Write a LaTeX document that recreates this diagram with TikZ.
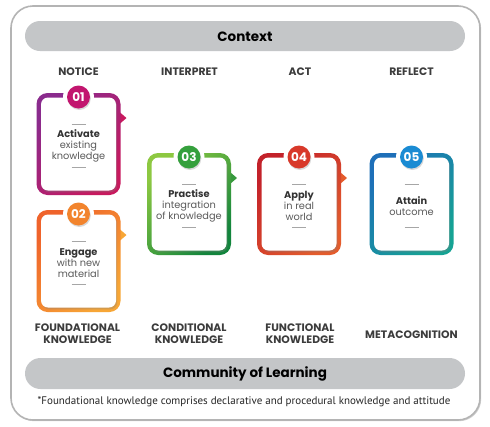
\documentclass[tikz,border=0pt]{standalone}
\usepackage{fontspec}
\setmainfont{Poppins}
\newfontfamily\notefont{PT Sans}
\usetikzlibrary{shadows}
\definecolor{barg}{HTML}{C4C6C8}
\definecolor{frameg}{HTML}{B4B4B4}
\definecolor{darktx}{HTML}{333333}
\definecolor{midtx}{HTML}{5A5A5A}
\definecolor{hdtx}{HTML}{3C3C3C}
\definecolor{pA}{HTML}{8A2B8D}\definecolor{pB}{HTML}{C8195E}\definecolor{pC}{HTML}{C2166F}
\definecolor{oA}{HTML}{EF632B}\definecolor{oB}{HTML}{F7A636}\definecolor{oC}{HTML}{F2842D}
\definecolor{gA}{HTML}{8DC841}\definecolor{gB}{HTML}{12853C}\definecolor{gC}{HTML}{35A03D}
\definecolor{rA}{HTML}{C3222A}\definecolor{rB}{HTML}{E45C2C}\definecolor{rC}{HTML}{D8392A}
\definecolor{bA}{HTML}{1E6FB8}\definecolor{bB}{HTML}{15A394}\definecolor{bC}{HTML}{1A8BD3}
\tikzset{
  hdr/.style={font=\fontsize{10.8}{12}\selectfont\bfseries, text=hdtx, align=center, inner sep=0pt},
  bartext/.style={font=\fontsize{13.5}{15}\selectfont\bfseries, text=black, inner sep=0pt},
  cardtext/.style={font=\fontsize{9.8}{11}\selectfont, text=midtx, align=center, inner sep=0pt},
  numtext/.style={font=\fontsize{12}{12}\selectfont\bfseries, text=white, inner sep=0pt},
  shortline/.style={draw=gray!70, line width=0.7pt},
  innerpanel/.style={fill=white, rounded corners=7pt, drop shadow={opacity=0.3, shadow xshift=1.2pt, shadow yshift=-1.8pt}},
  numball/.style={circle, minimum size=23pt, inner sep=0pt, drop shadow={opacity=0.3, shadow xshift=0.8pt, shadow yshift=-1.5pt}}
}
% #1 name, #2 cx, #3 top, #4 colA, #5 colB, #6 circle col, #7 number, #8 text, #9 pointer color (empty = none)
\newcommand\stepcard[9]{%
  \if\relax\detokenize{#9}\relax\else
    \fill[#9] (#2+41,#3+19) -- (#2+48,#3+25) -- (#2+41,#3+31) -- cycle;
  \fi
  \shade[top color=#4, bottom color=#5, shading angle=45, rounded corners=11pt]
     (#2-42,#3) rectangle (#2+42,#3+102);
  \fill[innerpanel] (#2-37.5,#3+4.5) rectangle (#2+37.5,#3+97.5);
  \fill[white] (#2,#3+4) circle (15.5);
  \node[numball, fill=#6] (#1n) at (#2,#3+4) {};
  \node[numtext] at (#1n) {#7};
  \node[cardtext] (#1t) at (#2,#3+53) {#8};
  \coordinate (#1a) at (#2,#3+31.5);
  \coordinate (#1b) at (#2,#3+74);
  \draw[shortline] ([xshift=-7pt]#1a) -- ([xshift=7pt]#1a);
  \draw[shortline] ([xshift=-7pt]#1b) -- ([xshift=7pt]#1b);
}
\begin{document}
\begin{tikzpicture}[x=1pt,y=-1pt]
\useasboundingbox (0,0) rectangle (490,426);
\fill[white] (0,0) rectangle (490,426);
% outer frame
\draw[frameg, line width=1.6pt, rounded corners=22pt, fill=white,
  drop shadow={opacity=0.35, shadow xshift=1.2pt, shadow yshift=-1.2pt}]
  (11,6) rectangle (480,420);
% bars
\fill[barg, rounded corners=15pt] (25,21) rectangle (465,51);
\node[bartext] (ctx) at (245,36.5) {Context};
\fill[barg, rounded corners=15.5pt] (25,358) rectangle (465,389);
\node[bartext] (col) at (245,373.5) {Community of Learning};
% headers
\node[hdr] (h1) at (78.5,72) {NOTICE};
\node[hdr] (h2) at (189.5,72) {INTERPRET};
\node[hdr] (h3) at (300,72) {ACT};
\node[hdr] (h4) at (411.5,72) {REFLECT};
% cards
\stepcard{c1}{78.5}{93}{pA}{pB}{pC}{01}{{\bfseries\color{darktx}Activate}\\existing\\knowledge}{pB}
\stepcard{c2}{78.5}{210}{oA}{oB}{oC}{02}{{\bfseries\color{darktx}Engage}\\with new\\material}{oB}
\stepcard{c3}{189}{153}{gA}{gB}{gC}{03}{{\bfseries\color{darktx}Practise}\\integration\\of knowledge}{gB!70!gA}
\stepcard{c4}{299}{153}{rA}{rB}{rC}{04}{{\bfseries\color{darktx}Apply}\\in real\\world}{rB}
\stepcard{c5}{411.5}{153}{bA}{bB}{bC}{05}{{\bfseries\color{darktx}Attain}\\outcome}{}
% bottom labels
\node[hdr] (k1) at (77.5,333.5) {FOUNDATIONAL\\KNOWLEDGE};
\node[hdr] (k2) at (189,333.5) {CONDITIONAL\\KNOWLEDGE};
\node[hdr] (k3) at (300,333.5) {FUNCTIONAL\\KNOWLEDGE};
\node[hdr] (k4) at (411.5,334.5) {METACOGNITION};
% footnote
\node[font=\notefont\fontsize{11}{13}\selectfont, text=black!85, inner sep=0pt] (fn) at (244,401.5)
  {*Foundational knowledge comprises declarative and procedural knowledge and attitude};
\end{tikzpicture}
\end{document}
